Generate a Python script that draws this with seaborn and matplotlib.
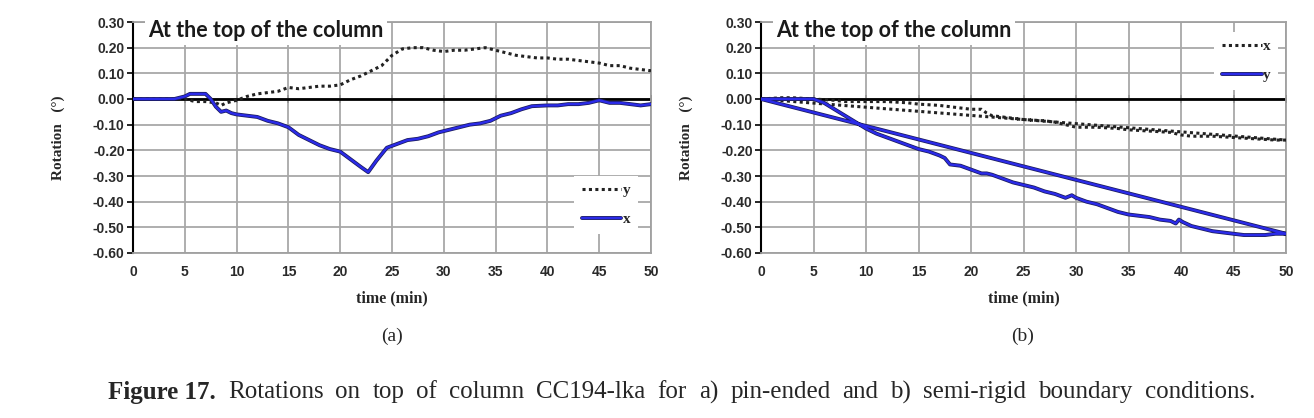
import numpy as np
import pandas as pd
import matplotlib
matplotlib.use('Agg')
import matplotlib.pyplot as plt
import matplotlib.patheffects as pe
import seaborn as sns

# (a) pin-ended
a_dot_time = [0, 2, 4, 5, 6, 7, 8, 8.5, 9, 10, 11, 12, 13, 14, 15, 16, 17, 18, 19, 20,
              21, 22, 23, 24, 25, 26, 27, 28, 29, 30, 31, 32, 33, 34, 35, 36, 37, 38, 39, 40,
              41, 42, 43, 44, 45, 46, 47, 48, 49, 50]
a_dot_rot = [0, 0, 0, 0, -0.01, -0.01, -0.015, -0.025, -0.015, -0.005, 0.01, 0.02, 0.025, 0.03, 0.045, 0.04, 0.045, 0.05, 0.05, 0.055,
             0.075, 0.09, 0.11, 0.13, 0.17, 0.195, 0.2, 0.2, 0.19, 0.185, 0.19, 0.19, 0.195, 0.2, 0.19, 0.18, 0.17, 0.165, 0.16, 0.16,
             0.155, 0.155, 0.15, 0.145, 0.14, 0.13, 0.13, 0.12, 0.115, 0.11]
a_sol_time = [0, 3, 4, 5, 5.5, 6, 7, 7.5, 8, 8.5, 9, 9.5, 10, 11, 12, 13, 14, 15, 16, 17,
              18, 19, 20, 21, 22, 22.7, 23.5, 24.5, 25.5, 26.5, 27.5, 28.5, 29.5, 30.5, 31.5, 32.5, 33.5, 34.5, 35.5, 36.5,
              37.5, 38.5, 40, 41, 42, 43, 44, 45, 46, 47, 48, 49, 50]
a_sol_rot = [0, 0, 0, 0.01, 0.02, 0.02, 0.02, 0.0, -0.03, -0.05, -0.045, -0.055, -0.06, -0.065, -0.07, -0.085, -0.095, -0.11, -0.14, -0.16,
             -0.18, -0.195, -0.205, -0.235, -0.265, -0.285, -0.24, -0.19, -0.175, -0.16, -0.155, -0.145, -0.13, -0.12, -0.11, -0.1, -0.095, -0.085, -0.065, -0.055,
             -0.04, -0.028, -0.025, -0.025, -0.02, -0.02, -0.015, -0.005, -0.015, -0.015, -0.02, -0.025, -0.02]

# (b) semi-rigid
b_dot_time = [0, 2, 3, 5, 7, 8, 10, 12, 14, 15, 17, 19, 20, 21, 21.5, 22, 24, 25, 27, 28,
              29, 30, 32, 34, 35, 37, 39, 40, 41, 43, 45, 47, 49, 50, 0]
b_dot_rot = [0, 0.005, 0.005, 0.0, -0.005, -0.01, -0.01, -0.01, -0.015, -0.02, -0.025, -0.035, -0.04, -0.04, -0.055, -0.065, -0.075, -0.08, -0.085, -0.09,
             -0.1, -0.11, -0.11, -0.115, -0.12, -0.125, -0.13, -0.14, -0.145, -0.145, -0.15, -0.155, -0.16, -0.16, 0]
b_sol_time = [0, 2, 4, 5, 6, 7, 8, 9, 10, 11, 12, 13, 14, 15, 16, 17, 17.5, 18, 19, 20,
              21, 21.5, 22, 23, 24, 25, 26, 27, 28, 29, 29.3, 29.6, 30, 31, 32, 33, 34, 35, 36, 37,
              38, 39, 39.5, 39.8, 40.2, 41, 42, 43, 44, 45, 46, 47, 48, 49, 50, 0]
b_sol_rot = [0, 0, 0, 0, -0.015, -0.04, -0.065, -0.09, -0.115, -0.135, -0.15, -0.165, -0.18, -0.195, -0.205, -0.22, -0.23, -0.255, -0.26, -0.275,
             -0.29, -0.29, -0.295, -0.31, -0.325, -0.335, -0.345, -0.36, -0.37, -0.385, -0.38, -0.375, -0.385, -0.4, -0.41, -0.425, -0.44, -0.45, -0.455, -0.46,
             -0.47, -0.475, -0.485, -0.47, -0.48, -0.495, -0.505, -0.515, -0.52, -0.525, -0.53, -0.53, -0.53, -0.525, -0.525, 0]

x_ticks = list(range(0, 51, 5))
y_ticks = [0.3, 0.2, 0.1, 0.0, -0.1, -0.2, -0.3, -0.4, -0.5, -0.6]
title = 'At the top of the column'
caption_bold = 'Figure 17.'
caption_rest = 'Rotations on top of column CC194-lka for a) pin-ended and b) semi-rigid boundary conditions.'

sns.set_theme(style='white')
plt.rcParams['font.family'] = ['Liberation Sans', 'DejaVu Sans']

fig = plt.figure(figsize=(13.14, 4.18), dpi=100)
W, H = 1314, 418
ax_a = fig.add_axes([133 / W, 1 - 253 / H, 518 / W, 231 / H])
ax_b = fig.add_axes([761 / W, 1 - 253 / H, 525 / W, 231 / H])

blue = '#2b2be8'
serif_bold = dict(family='Liberation Serif', weight='bold')


def panel(ax, dt, dv, dlab, st, sv, slab, leg_loc, leg_anchor):
    sns.lineplot(x=dt, y=dv, sort=False, estimator=None, ax=ax, color='#222222',
                 linestyle=(0, (1, 1.1)), linewidth=2.2, label=dlab, zorder=3)
    sns.lineplot(x=st, y=sv, sort=False, estimator=None, ax=ax, color=blue,
                 linewidth=1.7, label=slab, zorder=4,
                 path_effects=[pe.Stroke(linewidth=2.8, foreground='#1c1c5c'), pe.Normal()])
    ax.axhline(0, color='black', lw=2, zorder=2)
    ax.set_xlim(0, 50)
    ax.set_ylim(-0.6, 0.3)
    ax.set_xticks(x_ticks)
    ax.set_yticks(y_ticks)
    ax.set_yticklabels([f'{v:.2f}' for v in y_ticks])
    ax.grid(True, color='#a8a8a8', lw=1.3)
    ax.set_axisbelow(True)
    for s in ['top', 'right', 'bottom']:
        ax.spines[s].set_color('#a0a0a0')
        ax.spines[s].set_linewidth(1.3)
    ax.spines['left'].set_color('black')
    ax.spines['left'].set_linewidth(1.5)
    ax.tick_params(axis='y', left=True, length=4, width=1.2, color='black', pad=2,
                   labelsize=10, labelcolor='#2a2a2a')
    ax.tick_params(axis='x', bottom=False, length=0, pad=9, labelsize=10, labelcolor='#2a2a2a')
    for lab in ax.get_xticklabels() + ax.get_yticklabels():
        lab.set_fontweight('bold')
    # small tick marks on the zero line
    sec = ax.secondary_xaxis(0.6 / 0.9)
    sec.set_xticks(x_ticks)
    sec.set_xticklabels([])
    sec.tick_params(direction='inout', length=6, width=1.2, color='black',
                    labelbottom=False, labeltop=False)
    for s in sec.spines.values():
        s.set_visible(False)
    ax.set_xlabel('time (min)', fontsize=11.5, labelpad=8, **serif_bold)
    ax.set_ylabel('Rotation   (°)', fontsize=11, labelpad=20, **serif_bold)
    ax.text(0.029, 0.962, title, transform=ax.transAxes, ha='left', va='center',
            fontsize=15.5, fontweight='bold', family='Lato', color='#1a1a1a', zorder=6,
            bbox=dict(facecolor='white', edgecolor='none', pad=2.5))
    leg = ax.legend(loc=leg_loc, bbox_to_anchor=leg_anchor, frameon=True, fancybox=False,
                    facecolor='white', edgecolor='none', framealpha=1, handlelength=2.6,
                    handletextpad=0.1, labelspacing=1.0, borderpad=0.5,
                    prop=dict(family='Liberation Serif', weight='bold', size=11))
    leg.set_zorder(7)


panel(ax_a, a_dot_time, a_dot_rot, 'y', a_sol_time, a_sol_rot, 'x', 'lower right', (0.99, 0.05))
panel(ax_b, b_dot_time, b_dot_rot, 'x', b_sol_time, b_sol_rot, 'y', 'upper right', (1.0, 0.99))

fig.text(392 / W, 1 - 336 / H, '(a)', ha='center', va='center', fontsize=14, family='Liberation Serif')
fig.text(1023 / W, 1 - 336 / H, '(b)', ha='center', va='center', fontsize=14, family='Liberation Serif')

# justified caption line from x=108 to x=1255
cap_y = 1 - 392 / H
cap_size = 18
fig.canvas.draw()
renderer = fig.canvas.get_renderer()
words = [(caption_bold, 'bold')] + [(w, 'normal') for w in caption_rest.split()]
texts = []
for w, wt in words:
    t = fig.text(0, cap_y, w, ha='left', va='center', fontsize=cap_size,
                 family='Liberation Serif', fontweight=wt)
    texts.append(t)
widths = [t.get_window_extent(renderer).width for t in texts]
gap = (1255 - 108 - sum(widths)) / (len(texts) - 1)
x = 108
for t, wd in zip(texts, widths):
    t.set_x(x / W)
    x += wd + gap

fig.savefig('out.png', dpi=100, facecolor='white')
